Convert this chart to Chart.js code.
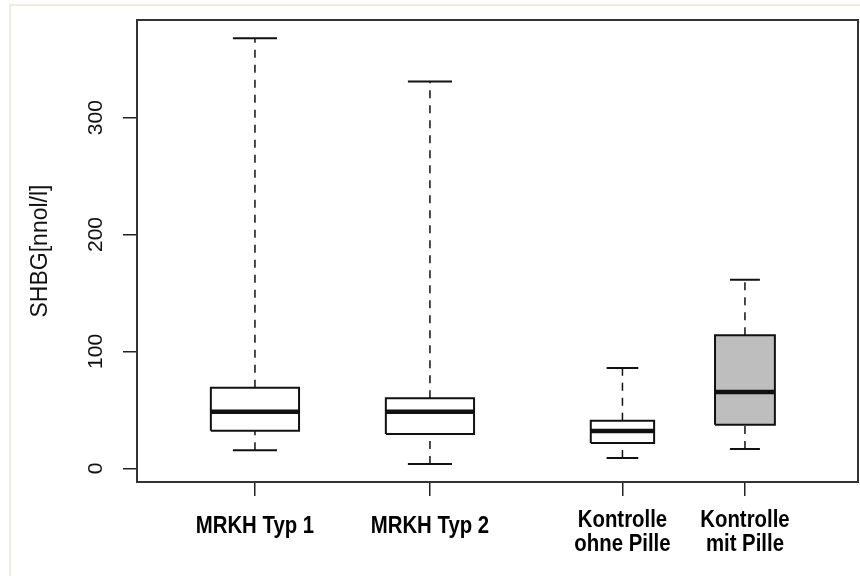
<!DOCTYPE html>
<html>
<head>
<meta charset="utf-8">
<script src="https://cdn.jsdelivr.net/npm/chart.js@4.4.1/dist/chart.umd.min.js"></script>
<style>
  html, body { margin: 0; padding: 0; background: #fff; }
  #frame { position: absolute; left: 9px; top: 4px; width: 860px; height: 580px;
           border-left: 2px solid #efebe1; border-top: 2px solid #efebe1; }
  #chart { position: absolute; left: 0; top: 0; }
</style>
</head>
<body>
<div id="frame"></div>
<canvas id="chart" width="860" height="576"></canvas>
<script>
const groupLabels = [['MRKH Typ 1'], ['MRKH Typ 2'], ['Kontrolle', 'ohne Pille'], ['Kontrolle', 'mit Pille']];
const whiskerLow = [15.4, 3.7, 8.8, 16.5];
const q1 = [32.2, 29.3, 21.6, 37.3];
const median = [48.4, 48.4, 31.9, 65.3];
const q3 = [68.9, 59.9, 40.7, 113.8];
const whiskerHigh = [367.8, 330.8, 85.8, 161.4];
const yTicks = [0, 100, 200, 300];
const yTitle = 'SHBG[nnol/l]';

// Lage der Gruppen auf der x-Achse (wie "at" in R) und Boxbreiten
const groupAt = [1, 2, 3.1, 3.8];
const boxHalfWidth = [0.252, 0.252, 0.181, 0.171];
const boxFill = ['#ffffff', '#ffffff', '#ffffff', '#bebebe'];

const LINE = '#111111';
const FONT = '"Liberation Sans", Arial, sans-serif';

function boxDatasets(i) {
    const x = groupAt[i];
    const hw = boxHalfWidth[i];
    const cw = hw / 2;
    const base = { showLine: true, pointRadius: 0, borderColor: LINE, tension: 0, fill: false };
    return [
        // Median
        { ...base, order: 0, borderWidth: 4.5, borderCapStyle: 'butt',
          data: [{ x: x - hw, y: median[i] }, { x: x + hw, y: median[i] }] },
        // Box
        { ...base, order: 1, borderWidth: 2, fill: 'shape', backgroundColor: boxFill[i],
          data: [{ x: x - hw, y: q1[i] }, { x: x + hw, y: q1[i] }, { x: x + hw, y: q3[i] },
                 { x: x - hw, y: q3[i] }, { x: x - hw, y: q1[i] }] },
        // Whisker gestrichelt
        { ...base, order: 2, borderWidth: 1.5, borderDash: [8, 7],
          data: [{ x: x, y: q3[i] }, { x: x, y: whiskerHigh[i] }] },
        { ...base, order: 2, borderWidth: 1.5, borderDash: [8, 7],
          data: [{ x: x, y: whiskerLow[i] }, { x: x, y: q1[i] }] },
        // Endstriche
        { ...base, order: 2, borderWidth: 2, spanGaps: false,
          data: [{ x: x - cw, y: whiskerHigh[i] }, { x: x + cw, y: whiskerHigh[i] }, { x: x, y: null },
                 { x: x - cw, y: whiskerLow[i] }, { x: x + cw, y: whiskerLow[i] }] }
    ];
}

const datasets = [];
groupAt.forEach((_, i) => datasets.push(...boxDatasets(i)));

// Rahmen um den Plotbereich
const plotFrame = {
    id: 'plotFrame',
    afterDatasetsDraw(chart) {
        const { ctx, chartArea: a } = chart;
        ctx.save();
        ctx.strokeStyle = '#333';
        ctx.lineWidth = 2;
        ctx.strokeRect(a.left, a.top, a.right - a.left, a.bottom - a.top);
        ctx.restore();
    }
};

// Achsenbeschriftungen: y gedreht (las=0), x ein- oder zweizeilig
const axisLabels = {
    id: 'axisLabels',
    afterDraw(chart) {
        const ctx = chart.ctx;
        const sy = chart.scales.y;
        const sx = chart.scales.x;
        const bottom = chart.chartArea.bottom;

        ctx.save();
        ctx.font = '21px ' + FONT;
        ctx.fillStyle = '#111';
        ctx.textAlign = 'center';
        ctx.textBaseline = 'alphabetic';
        sy.ticks.forEach(t => {
            ctx.save();
            ctx.translate(102, sy.getPixelForValue(t.value));
            ctx.rotate(-Math.PI / 2);
            ctx.fillText(String(t.value), 0, 0);
            ctx.restore();
        });

        ctx.font = 'bold 21px ' + FONT;
        ctx.fillStyle = '#000';
        sx.ticks.forEach((t, i) => {
            const lines = groupLabels[i];
            const first = lines.length > 1 ? bottom + 45 : bottom + 51;
            lines.forEach((txt, k) => {
                ctx.save();
                ctx.translate(sx.getPixelForValue(t.value), first + k * 24);
                ctx.scale(0.97, 1.1);
                ctx.fillText(txt, 0, 0);
                ctx.restore();
            });
        });
        ctx.restore();
    }
};

const tickGrid = { drawOnChartArea: false, drawTicks: true, tickLength: 14, color: '#222', lineWidth: 1.5 };

new Chart(document.getElementById('chart'), {
    type: 'scatter',
    data: { datasets: datasets },
    options: {
        responsive: false,
        animation: false,
        devicePixelRatio: 1,
        layout: { padding: { top: 20, right: 2, left: 0, bottom: 0 } },
        plugins: { legend: { display: false }, tooltip: { enabled: false } },
        scales: {
            x: {
                type: 'linear',
                min: 0.326,
                max: 4.446,
                afterBuildTicks: s => { s.ticks = groupAt.map(v => ({ value: v })); },
                afterFit: s => { s.height = 94; },
                grid: tickGrid,
                border: { display: false },
                ticks: { display: false }
            },
            y: {
                type: 'linear',
                min: -11.72,
                max: 383.5,
                afterBuildTicks: s => { s.ticks = yTicks.map(v => ({ value: v })); },
                afterFit: s => { s.width = 137; },
                grid: tickGrid,
                border: { display: false },
                ticks: { display: false },
                title: {
                    display: true,
                    text: yTitle,
                    color: '#111',
                    font: { family: FONT, size: 23 },
                    padding: { top: 27, bottom: 0 }
                }
            }
        }
    },
    plugins: [plotFrame, axisLabels]
});
</script>
</body>
</html>
